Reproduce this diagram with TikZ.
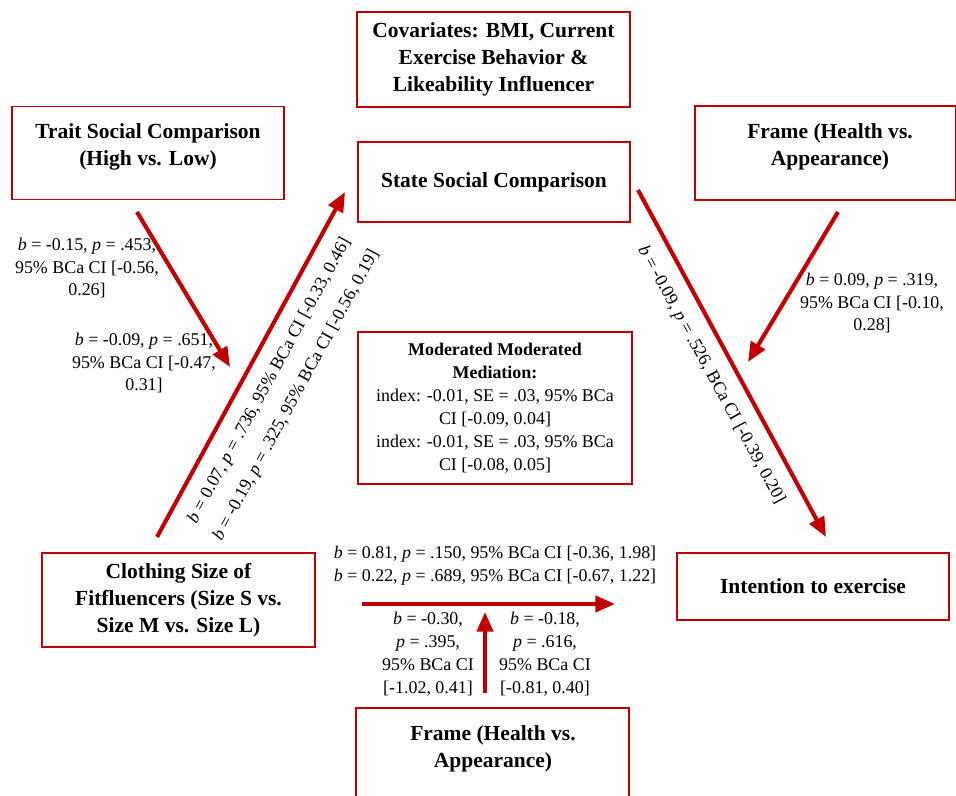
\documentclass[tikz,border=0pt]{standalone}
\usepackage{fontspec}
\setmainfont{Liberation Serif}
\usetikzlibrary{arrows.meta,calc}
\definecolor{dark-red}{HTML}{C00000}
\tikzstyle{varbox}=[draw=dark-red,line width=1.1pt,inner sep=0pt]
\tikzstyle{vartext}=[align=center,font=\fontsize{12}{15}\selectfont\bfseries]
\tikzstyle{effect}=[draw=dark-red,line width=2.3pt,-{Triangle[length=11pt,width=9pt]}]
\tikzstyle{coef}=[align=center,font=\fontsize{10}{12.8}\selectfont]
\newcommand{\bval}[1]{\textit{b} = #1}
\newcommand{\pval}[1]{\textit{p} = #1}

\begin{document}
\begin{tikzpicture}[x=0.558pt,y=-0.558pt]
	\useasboundingbox (0,0) rectangle (956,795);
	% boxes
	\node[varbox,vartext,minimum width=152.3pt,minimum height=53pt] (cov) at (493.5,59.5) {Covariates: BMI, Current\\Exercise Behavior \&\\Likeability Influencer};
	\node[varbox,vartext,minimum width=151.8pt,minimum height=44.6pt] (state) at (494,182) {State Social Comparison};
	\node[varbox,minimum width=151.8pt,minimum height=51.9pt] (trait) at (148,153) {};
	\node[vartext] (trait-text) at (148,147) {Trait Social Comparison\\(High vs. Low)};
	\node[varbox,minimum width=145.6pt,minimum height=52.5pt] (frame) at (825.5,153) {};
	\node[vartext] (frame-text) at (830,147) {Frame (Health vs.\\Appearance)};
	\node[varbox,coef,minimum width=152.9pt,minimum height=84.8pt] (modmed) at (495,408) {\textbf{Moderated Moderated}\\\textbf{Mediation:}\\index: -0.01, SE = .03, 95\% BCa\\CI [-0.09, 0.04]\\index: -0.01, SE = .03, 95\% BCa\\CI [-0.08, 0.05]};
	\node[varbox,vartext,minimum width=152.3pt,minimum height=52.5pt] (cloth) at (178.5,600) {Clothing Size of\\Fitfluencers (Size S vs.\\Size M vs. Size L)};
	\node[varbox,vartext,minimum width=151.8pt,minimum height=37.4pt] (intent) at (813,586.5) {Intention to exercise};
	\node[varbox,minimum width=152.3pt,minimum height=67pt] (frame2) at (492.5,768) {};
	\node[vartext] (frame2-text) at (493,748.5) {Frame (Health vs.\\Appearance)};
	% arrow ends
	\coordinate (trait-out) at (137,212);
	\coordinate (trait-in) at (230,367);
	\coordinate (frame-out) at (838,212);
	\coordinate (frame-in) at (748,362);
	\coordinate (cloth-out) at (157,537);
	\coordinate (state-in) at (345,192);
	\coordinate (state-out) at (638,190);
	\coordinate (intent-in) at (826,537);
	\coordinate (direct-out) at (362,604);
	\coordinate (direct-in) at (615,604);
	\coordinate (frame2-out) at (485,693);
	\coordinate (frame2-in) at (485,612);
	% arrows
	\draw[effect] (trait-out) -- (trait-in);
	\draw[effect] (frame-out) -- (frame-in);
	\draw[effect] (cloth-out) -- (state-in);
	\draw[effect] (state-out) -- (intent-in);
	\draw[effect] (direct-out) -- (direct-in);
	\draw[effect] (frame2-out) -- (frame2-in);
	% coefficients
	\node[coef] (c-trait1) at (87,268) {\bval{-0.15}, \pval{.453},\\95\% BCa CI [-0.56,\\0.26]};
	\node[coef] (c-trait2) at (144,363) {\bval{-0.09}, \pval{.651},\\95\% BCa CI [-0.47,\\0.31]};
	\node[coef] (c-frame) at (872,303) {\bval{0.09}, \pval{.319},\\95\% BCa CI [-0.10,\\0.28]};
	\node[coef,font=\fontsize{10}{17}\selectfont,rotate=61.4] (c-a) at (283,388) {\bval{0.07}, \pval{.736}, 95\% BCa CI [-0.33, 0.46]\\\bval{-0.19}, \pval{.325}, 95\% BCa CI [-0.56, 0.19]};
	\node[coef,rotate=-61.5] (c-b) at (711,375) {\bval{-0.09}, \pval{.526}, BCa CI [-0.39, 0.20]};
	\node[coef] (c-direct) at (495,565.5) {\bval{0.81}, \pval{.150}, 95\% BCa CI [-0.36, 1.98]\\\bval{0.22}, \pval{.689}, 95\% BCa CI [-0.67, 1.22]};
	\node[coef] (c-frame2a) at (428,654) {\bval{-0.30},\\\pval{.395},\\95\% BCa CI\\{[-1.02, 0.41]}};
	\node[coef] (c-frame2b) at (545,654) {\bval{-0.18},\\\pval{.616},\\95\% BCa CI\\{[-0.81, 0.40]}};
\end{tikzpicture}
\end{document}
